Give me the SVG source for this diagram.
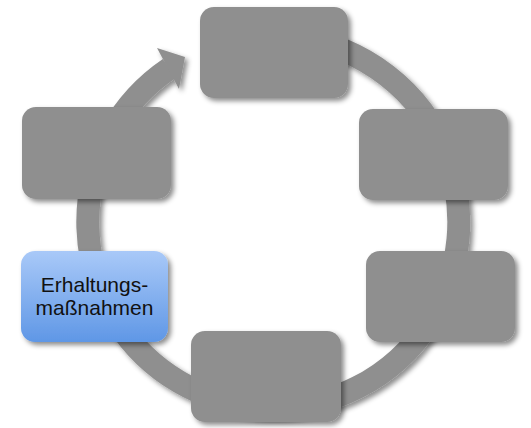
<svg xmlns="http://www.w3.org/2000/svg" width="531" height="428" viewBox="0 0 531 428">
  <defs>
    <filter id="shadow" x="-20%" y="-20%" width="150%" height="150%">
      <feDropShadow dx="3" dy="3" stdDeviation="2.5" flood-color="#000" flood-opacity="0.45"/>
    </filter>
    <linearGradient id="blueFill" x1="0" y1="0" x2="0" y2="1">
      <stop offset="0" stop-color="#a9c9f8"/>
      <stop offset="1" stop-color="#5f97e6"/>
    </linearGradient>
    <style>
      .node { fill: #8f8f8f; filter: url(#shadow); }
      .active { fill: url(#blueFill); filter: url(#shadow); }
      .ring { fill: none; stroke: #8f8f8f; stroke-width: 23; }
      .head { fill: #8f8f8f; }
      .label { font-family: "Liberation Sans", Arial, sans-serif; font-size: 21px; fill: #111; text-anchor: middle; }
    </style>
  </defs>

  <rect width="531" height="428" fill="#fff"/>

  <!-- cycle ring with arrowhead -->
  <g id="connectors" filter="url(#shadow)">
    <path class="ring" d="M 210.1 47.7 A 185.5 185.5 0 1 1 169.3 68.5"/>
    <polygon class="head" points="185,57 157,48 179,89"/>
  </g>

  <g id="node-top"><rect class="node" x="200" y="7" width="148" height="91" rx="14"/></g>
  <g id="node-right-upper"><rect class="node" x="359" y="109" width="149" height="91" rx="14"/></g>
  <g id="node-right-lower"><rect class="node" x="366" y="251" width="149" height="91" rx="14"/></g>
  <g id="node-bottom"><rect class="node" x="191" y="331" width="150" height="91" rx="14"/></g>
  <g id="node-left-lower">
    <rect class="active" x="21" y="251" width="147" height="91" rx="14"/>
    <text class="label" x="94.5" y="292">Erhaltungs-</text>
    <text class="label" x="94.5" y="315">maßnahmen</text>
  </g>
  <g id="node-left-upper"><rect class="node" x="22" y="107" width="149" height="92" rx="14"/></g>
</svg>
